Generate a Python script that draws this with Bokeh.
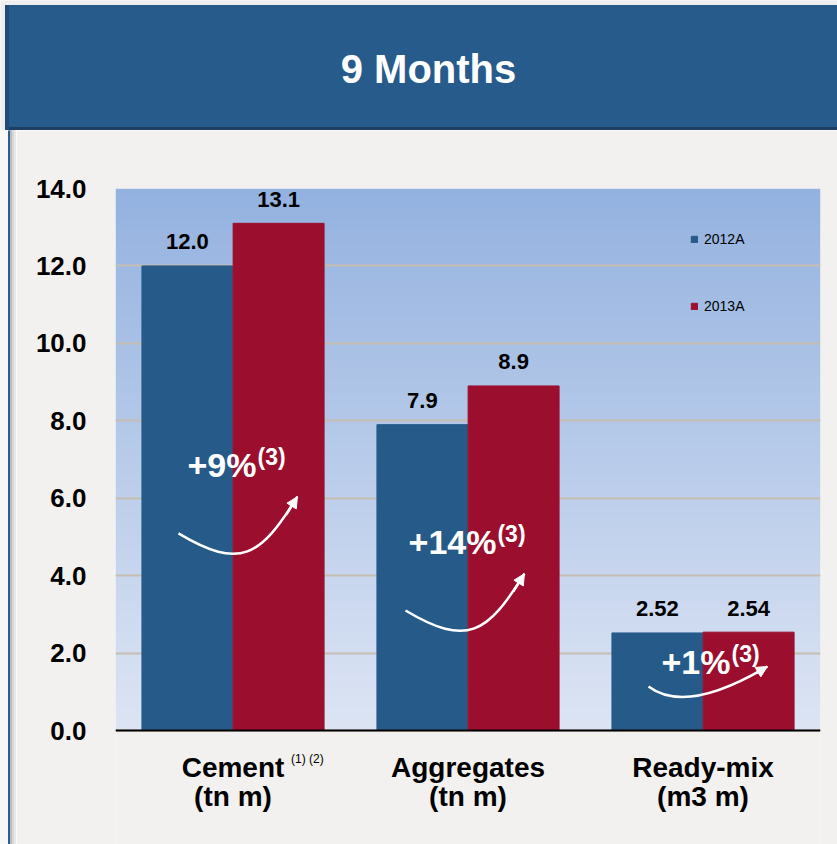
import numpy as np
from bokeh.plotting import figure
from bokeh.models import (FactorRange, Range1d, FixedTicker, NumeralTickFormatter, Label,
                          Arrow, NormalHead, Legend, LegendItem, ColumnDataSource, Span)
from bokeh.transform import dodge
from bokeh.layouts import column, row
from bokeh.embed import file_html
from bokeh.resources import INLINE
from bokeh.core.properties import value

# ---------------- data ----------------
title_text = "9 Months"
categories = ["Cement", "Aggregates", "Ready-mix"]
category_units = ["(tn m)", "(tn m)", "(m3 m)"]
series_names = ["2012A", "2013A"]
values_2012 = [12.0, 7.9, 2.52]
values_2013 = [13.1, 8.9, 2.54]
labels_2012 = ["12.0", "7.9", "2.52"]
labels_2013 = ["13.1", "8.9", "2.54"]
growth_labels = ["+9%", "+14%", "+1%"]
growth_note = "(3)"
cement_note = "(1) (2)"
y_ticks = [0, 2, 4, 6, 8, 10, 12, 14]

# ---------------- style / layout ----------------
FONT = "Liberation Sans"
BLUE = "#255A89"
RED = "#9B0E2D"
BG = "#F2F1EF"
HEADER = "#265B8B"
W = 837
STRIP_W = 16
TITLE_H = 130
CHART_H = 714
FRAME_TOP = 58           # px from chart-figure top to the 14.0 line
PX_PER_UNIT = 542 / 14   # vertical scale of the value axis
Y_MAX = 14
Y_MIN = Y_MAX - (CHART_H - FRAME_TOP) / PX_PER_UNIT   # room under 0 for category labels

# growth annotation anchors (junction between main text and note), data coords
growth_x = [0.60, 1.621, 2.617]
growth_y = [6.85, 4.86, 1.78]
# curved arrows (cubic bezier), data coords
arrow_x0 = [0.268, 1.234, 2.268]
arrow_y0 = [5.09, 3.10, 1.137]
arrow_cx0 = [0.532, 1.498, 2.404]
arrow_cy0 = [4.133, 2.143, 0.517]
arrow_cx1 = [0.617, 1.583, 2.617]
arrow_cy1 = [4.495, 2.505, 1.085]
arrow_x1 = [0.774, 1.740, 2.774]
arrow_y1 = [6.04, 4.05, 1.653]

# ---------------- header ----------------
tp = figure(width=W, height=TITLE_H, x_range=Range1d(0, W), y_range=Range1d(0, TITLE_H),
            output_backend="svg", toolbar_location=None, min_border=0,
            x_axis_location=None, y_axis_location=None, frame_align=False)
tp.grid.visible = False
tp.outline_line_color = None
tp.background_fill_color = "#EEEEEE"
tp.border_fill_color = "#EEEEEE"
tp.quad(left=5, right=W, bottom=2, top=125, color=HEADER)
tp.quad(left=5, right=W, bottom=0, top=3, color="#1C3F62")
tp.quad(left=5, right=8, bottom=0, top=125, color="#1E4B75")
tp.add_layout(Label(x=428, y=62, text=title_text,
                    text_align="center", text_baseline="middle", text_color="white",
                    text_font=FONT, text_font_style="bold", text_font_size="40px"))

# ---------------- left frame edge ----------------
sp = figure(width=STRIP_W, height=CHART_H, x_range=Range1d(0, STRIP_W),
            y_range=Range1d(0, CHART_H), output_backend="svg", toolbar_location=None,
            min_border=0, x_axis_location=None, y_axis_location=None, frame_align=False)
sp.grid.visible = False
sp.outline_line_color = None
sp.background_fill_color = BG
sp.border_fill_color = BG
sp.quad(left=[0, 8, 10, 12, 14], right=[8, 10, 12, 14, 16], bottom=0, top=CHART_H,
        color=["#F8F8F8", "#2E5E8E", "#B9BCC0", "#D6D7D8", "#E8E8E7"])

# ---------------- chart ----------------
p = figure(width=W - STRIP_W, height=CHART_H,
           x_range=FactorRange(factors=categories, range_padding=0, factor_padding=0),
           y_range=Range1d(Y_MIN, Y_MAX),
           output_backend="svg", toolbar_location=None, frame_align=False,
           x_axis_location=None,
           min_border_left=115 - STRIP_W, min_border_right=17, min_border_top=FRAME_TOP,
           min_border_bottom=0)
p.background_fill_color = BG
p.border_fill_color = BG
p.outline_line_color = None

# vertical gradient background of the plot area (0 .. 14)
top_rgb = np.array([148, 178, 224])
bot_rgb = np.array([221, 229, 244])
n = 256
t = np.linspace(0, 1, n)[:, None]
rgb = (bot_rgb * (1 - t) + top_rgb * t).astype(np.uint32)
img = np.empty((n, 1), dtype=np.uint32)
view = img.view(dtype=np.uint8).reshape((n, 1, 4))
view[:, :, 0] = rgb[:, 0:1]
view[:, :, 1] = rgb[:, 1:2]
view[:, :, 2] = rgb[:, 2:3]
view[:, :, 3] = 255
p.image_rgba(image=[img], x=0, y=0, dw=3, dh=Y_MAX, level="image")

p.xgrid.grid_line_color = None
p.ygrid.ticker = FixedTicker(ticks=y_ticks)
p.ygrid.grid_line_color = "#C6BDB0"
p.ygrid.grid_line_width = 2

p.yaxis.ticker = FixedTicker(ticks=y_ticks)
p.yaxis.formatter = NumeralTickFormatter(format="0.0")
p.yaxis.axis_line_color = None
p.yaxis.major_tick_line_color = None
p.yaxis.minor_tick_line_color = None
p.yaxis.major_tick_out = 0
p.yaxis.major_tick_in = 0
p.yaxis.major_label_standoff = 29
p.yaxis.major_label_text_font = FONT
p.yaxis.major_label_text_font_style = "bold"
p.yaxis.major_label_text_font_size = "26px"
p.yaxis.major_label_text_color = "black"

# baseline
p.add_layout(Span(location=0, dimension="width", line_color="black", line_width=2))

src = ColumnDataSource(dict(cat=categories, units=category_units,
                            v12=values_2012, v13=values_2013,
                            l12=labels_2012, l13=labels_2013, zero=[0] * len(categories)))
off = 0.194
bw = 0.387
r1 = p.vbar(x=dodge("cat", -off, range=p.x_range), top="v12", width=bw, source=src,
            fill_color=BLUE, line_color=BLUE)
r2 = p.vbar(x=dodge("cat", off, range=p.x_range), top="v13", width=bw, source=src,
            fill_color=RED, line_color=RED)

for field, lab, dx in (("v12", "l12", -off), ("v13", "l13", off)):
    p.text(x=dodge("cat", dx, range=p.x_range), y=field, text=lab, source=src,
           text_align="center", text_baseline="alphabetic", y_offset=-24,
           text_font=value(FONT), text_font_style="bold", text_font_size="22px",
           text_color="black")

# category labels (two lines) under the baseline
p.text(x="cat", y="zero", text="cat", source=src, text_align="center",
       text_baseline="alphabetic", y_offset=37, text_font=value(FONT),
       text_font_style="bold", text_font_size="28px", text_color="black")
p.text(x="cat", y="zero", text="units", source=src, text_align="center",
       text_baseline="alphabetic", y_offset=66, text_font=value(FONT),
       text_font_style="bold", text_font_size="28px", text_color="black")
p.text(x=[categories[0]], y=[0], text=[cement_note], text_align="left",
       text_baseline="alphabetic", x_offset=58, y_offset=28, text_font=value(FONT),
       text_font_size="12px", text_color="black")

legend = Legend(items=[LegendItem(label=series_names[0], renderers=[r1]),
                       LegendItem(label=series_names[1], renderers=[r2])],
                location=(575, 416 + round(-Y_MIN * PX_PER_UNIT)), orientation="vertical",
                spacing=51, padding=0, margin=0,
                glyph_width=8, glyph_height=8, label_height=14, label_standoff=6,
                label_text_font=FONT, label_text_font_size="14px", label_text_color="black",
                background_fill_alpha=0, border_line_color=None)
p.add_layout(legend)

# curved growth arrows
asrc = ColumnDataSource(dict(x0=arrow_x0, y0=arrow_y0, cx0=arrow_cx0, cy0=arrow_cy0,
                             cx1=arrow_cx1, cy1=arrow_cy1, x1=arrow_x1, y1=arrow_y1))
p.bezier(x0="x0", y0="y0", x1="x1", y1="y1", cx0="cx0", cy0="cy0", cx1="cx1", cy1="cy1",
         source=asrc, line_color="white", line_width=2.5)
hx = [b - 0.3 * (b - c) for b, c in zip(arrow_x1, arrow_cx1)]
hy = [b - 0.3 * (b - c) for b, c in zip(arrow_y1, arrow_cy1)]
hsrc = ColumnDataSource(dict(xs=hx, ys=hy, xe=arrow_x1, ye=arrow_y1))
p.add_layout(Arrow(end=NormalHead(size=11, fill_color="white", line_color="white"),
                   x_start="xs", y_start="ys", x_end="xe", y_end="ye", source=hsrc,
                   line_color="white", line_width=2.5))

for gx, gy, gl in zip(growth_x, growth_y, growth_labels):
    p.add_layout(Label(x=gx, y=gy, text=gl, text_align="right", text_baseline="alphabetic",
                       text_color="white", text_font=FONT, text_font_style="bold",
                       text_font_size="34px"))
    p.add_layout(Label(x=gx, y=gy, x_offset=1, y_offset=8, text=growth_note,
                       text_align="left", text_baseline="alphabetic", text_color="white",
                       text_font=FONT, text_font_style="bold", text_font_size="23px"))

layout = column(tp, row(sp, p, spacing=0), spacing=0)
open("out.html", "w").write(file_html(layout, INLINE))
